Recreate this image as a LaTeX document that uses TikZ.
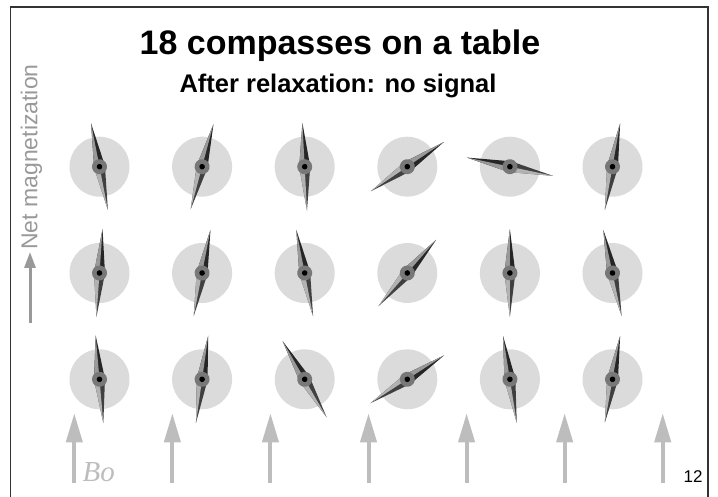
\documentclass[tikz,border=0pt]{standalone}
\usepackage{fontspec}
\setmainfont{Liberation Sans}
\newfontfamily\timesfont{Liberation Serif}
\usetikzlibrary{arrows.meta}
\definecolor{diskgray}{gray}{0.86}
\definecolor{hubgray}{gray}{0.47}
\definecolor{fieldgray}{gray}{0.74}
\definecolor{netgray}{gray}{0.6}

\begin{document}
\begin{tikzpicture}[x=1pt,y=1pt,
    fieldarrow/.style={draw=fieldgray, line width=4pt, -{Triangle[length=29pt,width=16pt]}},
    netarrow/.style={draw=netgray, line width=3pt, -{Triangle[length=16pt,width=11pt]}},
  ]
  \useasboundingbox (0,0) rectangle (718,497);
  % slide frame
  \draw[line width=1.2pt, black!80] (10.5,0) -- (10.5,490) -- (708,490) -- (708,0);

  \node (title) [anchor=base] at (340,442) {\fontsize{34}{40}\selectfont\bfseries 18 compasses on a table};
  \node (subtitle) [anchor=base] at (338,404) {\fontsize{25.5}{30}\selectfont\bfseries After relaxation: no signal};

  % compasses: column/row/needle angle
  \foreach \col/\row/\ang in {0/0/101, 1/0/75, 2/0/93, 3/0/34, 4/0/168, 5/0/80,
                              0/1/86, 1/1/79, 2/1/101, 3/1/49, 4/1/90, 5/1/102,
                              0/2/95, 1/2/82, 2/2/120, 3/2/33, 4/2/99, 5/2/80} {
    \begin{scope}[shift={(99.5+102.6*\col,330.3-106.3*\row)}, rotate=\ang]
      \fill[diskgray] (0,0) circle (30);
      \fill[black!85] (44,0) -- (0,-5.5) -- (0,5.5) -- cycle;
      \fill[black!40] (44,0) -- (0,5.5) -- (0,0) -- cycle;
      \fill[black!75] (-44,0) -- (0,-5.5) -- (0,5.5) -- cycle;
      \fill[black!30] (-44,0) -- (0,5.5) -- (0,0) -- cycle;
      \fill[hubgray] (0,0) circle (7.5);
      \fill[black] (0,0) circle (2.8);
    \end{scope}
  }

  % static field
  \foreach \i in {0,...,6}
    \draw[fieldarrow] (74.3+98.07*\i,14) -- ++(0,69.7);
  \node (bo) [anchor=base west, text=fieldgray] at (79,15) {\fontsize{29}{30}\selectfont\timesfont\itshape Bo};

  % net magnetization
  \draw[netarrow] (30,174) -- (30,245);
  \node (net) [anchor=base, rotate=90, text=netgray] at (37.5,340) {\fontsize{23}{27}\selectfont Net magnetization};

  \node (page) [anchor=base] at (693,14) {\fontsize{17}{20}\selectfont 12};
\end{tikzpicture}
\end{document}
